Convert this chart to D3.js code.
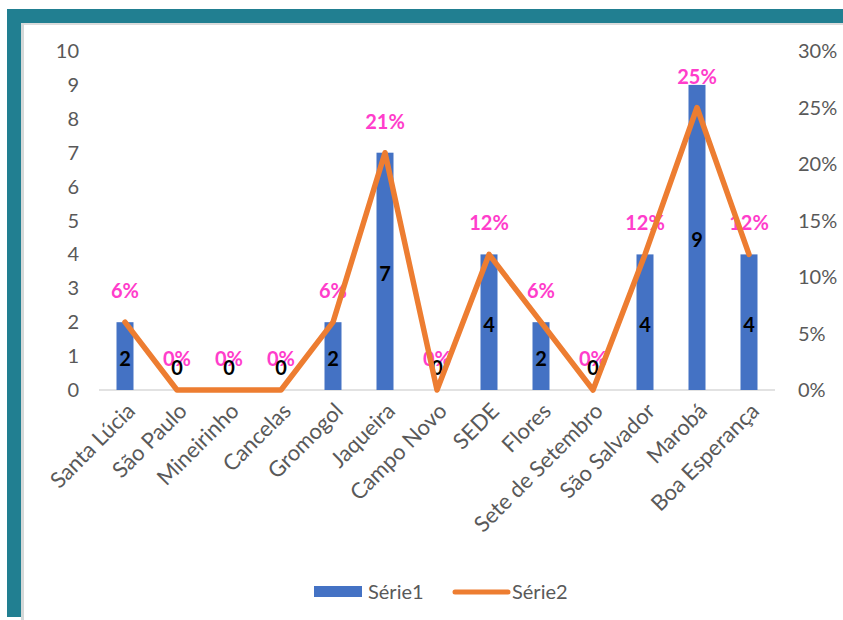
<!DOCTYPE html>
<html>
<head>
<meta charset="utf-8">
<script src="https://cdn.jsdelivr.net/npm/d3@7"></script>
<style>
  body { margin: 0; background: #fff; }
  svg { display: block; font-family: Lato, "Open Sans", sans-serif; }
</style>
</head>
<body>
<svg id="chart" width="843" height="620"></svg>
<script>
var categories = ['Santa Lúcia', 'São Paulo', 'Mineirinho', 'Cancelas', 'Gromogol', 'Jaqueira',
    'Campo Novo', 'SEDE', 'Flores', 'Sete de Setembro', 'São Salvador', 'Marobá', 'Boa Esperança'];
var serie1 = [2, 0, 0, 0, 2, 7, 0, 4, 2, 0, 4, 9, 4];
var serie2 = [0.06, 0, 0, 0, 0.06, 0.21, 0, 0.12, 0.06, 0, 0.12, 0.25, 0.12];
var leftTicks = [0, 1, 2, 3, 4, 5, 6, 7, 8, 9, 10];
var rightTicks = [0, 0.05, 0.10, 0.15, 0.20, 0.25, 0.30];
var seriesNames = ['Série1', 'Série2'];

var svg = d3.select('#chart');
var blue = '#4472C4', orange = '#ED7D31', pink = '#FF3DCB', grey = '#595959';

// frame (teal border of the screenshot)
svg.append('rect').attr('x', 7).attr('y', 9).attr('width', 836).attr('height', 14).attr('fill', '#217F91');
svg.append('rect').attr('x', 7).attr('y', 9).attr('width', 14).attr('height', 608).attr('fill', '#217F91');
svg.append('rect').attr('x', 21).attr('y', 23).attr('width', 822).attr('height', 2).attr('fill', '#dcdcdc');
svg.append('rect').attr('x', 21).attr('y', 23).attr('width', 3).attr('height', 597).attr('fill', '#d4d8d8');

var x = d3.scaleBand().domain(categories).range([99, 775]).padding(0);
var y = d3.scaleLinear().domain([0, 10]).range([390, 51]);
var y2 = d3.scaleLinear().domain([0, 0.3]).range([390, 51]);
var barW = 17;
function cx(d) { return x(d) + x.bandwidth() / 2; }

// left axis labels
svg.append('g').selectAll('text').data(leftTicks).enter().append('text')
    .attr('x', 79).attr('y', function(d) { return y(d); }).attr('dy', '0.35em')
    .attr('text-anchor', 'end').attr('fill', grey).style('font-size', '20px')
    .text(function(d) { return d; });

// right axis labels
svg.append('g').selectAll('text').data(rightTicks).enter().append('text')
    .attr('x', 798).attr('y', function(d) { return y2(d); }).attr('dy', '0.35em')
    .attr('fill', grey).style('font-size', '20px')
    .text(d3.format('.0%'));

// baseline
svg.append('line').attr('x1', 99).attr('x2', 775).attr('y1', y(0)).attr('y2', y(0))
    .attr('stroke', '#d9d9d9').attr('stroke-width', 1.5);

// bars
svg.append('g').selectAll('rect').data(serie1).enter().append('rect')
    .attr('x', function(d, i) { return cx(categories[i]) - barW / 2; })
    .attr('y', function(d) { return y(d); })
    .attr('width', barW)
    .attr('height', function(d) { return y(0) - y(d); })
    .attr('fill', blue);

// category labels
svg.append('g').selectAll('text').data(categories).enter().append('text')
    .attr('transform', function(d) { return 'translate(' + (cx(d) + 6) + ',' + 407 + ') rotate(-45)'; })
    .attr('text-anchor', 'end').attr('dy', '0.35em')
    .attr('fill', grey).style('font-size', '22px')
    .text(function(d) { return d; });

// percent labels
svg.append('g').selectAll('text').data(serie2).enter().append('text')
    .attr('x', function(d, i) { return cx(categories[i]); })
    .attr('y', function(d) { return y2(d) - 31; }).attr('dy', '0.35em')
    .attr('text-anchor', 'middle').attr('fill', pink)
    .style('font-size', '20px').style('font-weight', 'bold')
    .text(d3.format('.0%'));

// bar value labels
svg.append('g').selectAll('text').data(serie1).enter().append('text')
    .attr('x', function(d, i) { return cx(categories[i]); })
    .attr('y', function(d) { return d === 0 ? y(0) - 22 : (y(d) + y(0)) / 2 + 3; }).attr('dy', '0.35em')
    .attr('text-anchor', 'middle').attr('fill', '#000')
    .style('font-size', '20px').style('font-weight', 'bold')
    .text(function(d) { return d; });

// line
var line = d3.line()
    .x(function(d, i) { return cx(categories[i]); })
    .y(function(d) { return y2(d); });
svg.append('path').datum(serie2).attr('d', line)
    .attr('fill', 'none').attr('stroke', orange).attr('stroke-width', 5.5)
    .attr('stroke-linejoin', 'round').attr('stroke-linecap', 'round');

// legend
var legend = svg.append('g');
legend.append('rect').attr('x', 314).attr('y', 586).attr('width', 48).attr('height', 11).attr('fill', blue);
legend.append('text').attr('x', 368).attr('y', 592).attr('dy', '0.35em')
    .attr('fill', grey).style('font-size', '20px').text(seriesNames[0]);
legend.append('line').attr('x1', 455).attr('x2', 508).attr('y1', 592).attr('y2', 592)
    .attr('stroke', orange).attr('stroke-width', 5).attr('stroke-linecap', 'round');
legend.append('text').attr('x', 512).attr('y', 592).attr('dy', '0.35em')
    .attr('fill', grey).style('font-size', '20px').text(seriesNames[1]);
</script>
</body>
</html>
